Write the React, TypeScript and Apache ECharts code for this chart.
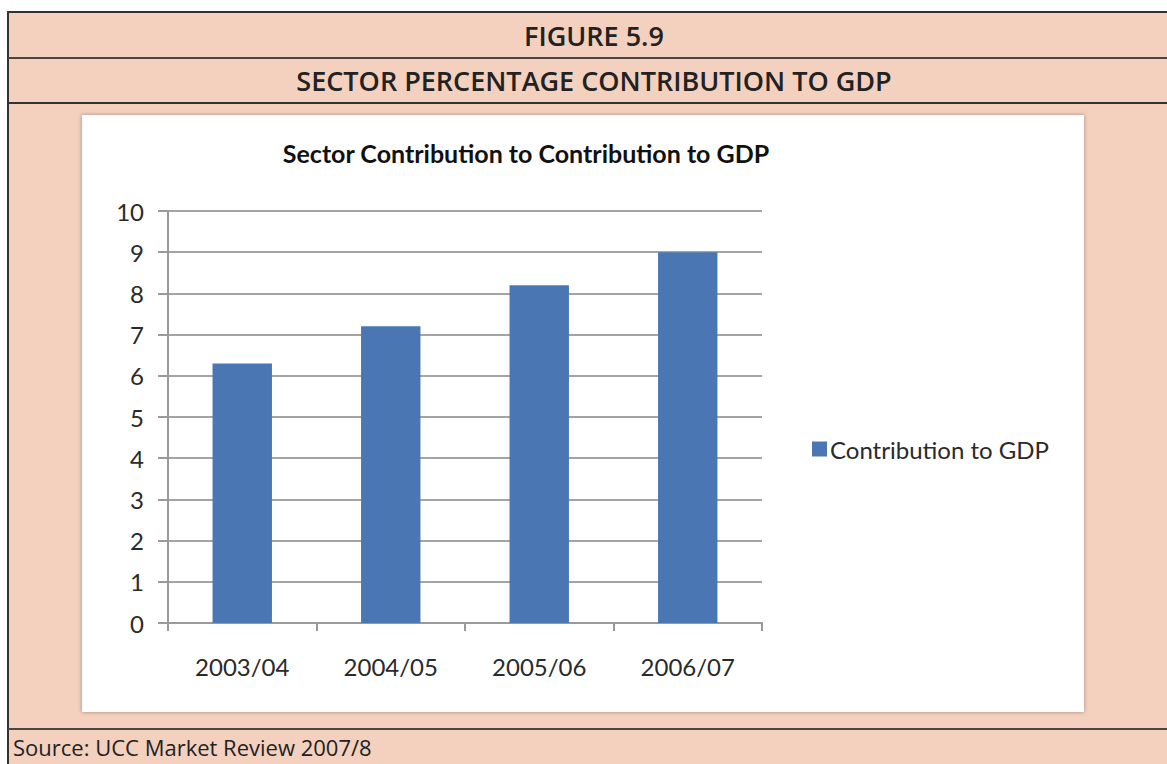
import React, { useEffect, useRef } from "react";
import * as echarts from "echarts";

const categories = ["2003/04", "2004/05", "2005/06", "2006/07"];
const contribution = [6.3, 7.2, 8.2, 9.0];
const seriesName = "Contribution to GDP";
const chartTitle = "Sector Contribution to Contribution to GDP";
const figureLabel = "FIGURE 5.9";
const figureTitle = "SECTOR PERCENTAGE CONTRIBUTION TO GDP";
const sourceText = "Source: UCC Market Review 2007/8";

const PEACH = "#f4d0be";
const LINE = "#4e4440";

export default function App() {
  const ref = useRef<HTMLDivElement>(null);
  useEffect(() => {
    if (!ref.current) return;
    const chart = echarts.init(ref.current, undefined, { renderer: "svg" });
    chart.setOption({
      animation: false,
      backgroundColor: "transparent",
      textStyle: { fontFamily: "Lato" },
      grid: { left: 168, right: 405, top: 211, bottom: 141 },
      xAxis: {
        type: "category",
        data: categories,
        axisLine: { lineStyle: { color: "#9a9a9a", width: 2 } },
        axisTick: { show: true, length: 8, lineStyle: { color: "#9a9a9a", width: 2 } },
        axisLabel: { color: "#2a2a2a", fontSize: 24, fontFamily: "Lato", margin: 31 },
      },
      yAxis: {
        type: "value",
        min: 0,
        max: 10,
        interval: 1,
        axisLine: { show: true, lineStyle: { color: "#9a9a9a", width: 2 } },
        axisTick: { show: true, length: 10, lineStyle: { color: "#9a9a9a", width: 2 } },
        axisLabel: { color: "#2a2a2a", fontSize: 24, fontFamily: "Lato", margin: 24 },
        splitLine: { lineStyle: { color: "#a4a4a4", width: 2 } },
      },
      legend: {
        orient: "vertical",
        left: 807,
        top: 432,
        itemWidth: 15,
        itemHeight: 15,
        itemGap: 8,
        icon: "rect",
        textStyle: { color: "#2a2a2a", fontSize: 24, fontFamily: "Lato", padding: [0, 0, 0, -2] },
        data: [seriesName],
      },
      series: [
        {
          name: seriesName,
          type: "bar",
          data: contribution,
          barCategoryGap: "60%",
          itemStyle: { color: "#4a77b3" },
        },
      ],
      graphic: [
        {
          type: "text",
          x: 594,
          y: 35,
          style: {
            text: figureLabel,
            fontSize: 27,
            fontWeight: 600,
            fontFamily: "Open Sans",
            fill: "#222",
            textAlign: "center",
            textVerticalAlign: "middle",
          },
        },
        {
          type: "text",
          x: 594,
          y: 80,
          style: {
            text: figureTitle,
            fontSize: 27,
            fontWeight: 600,
            fontFamily: "Open Sans",
            fill: "#222",
            textAlign: "center",
            textVerticalAlign: "middle",
          },
        },
        {
          type: "text",
          x: 526,
          y: 153,
          style: {
            text: chartTitle,
            fontSize: 25,
            fontWeight: "bold",
            fontFamily: "Lato",
            fill: "#111",
            textAlign: "center",
            textVerticalAlign: "middle",
          },
        },
        {
          type: "text",
          x: 13,
          y: 747,
          style: {
            text: sourceText,
            fontSize: 22,
            fontFamily: "Open Sans",
            fill: "#222",
            textAlign: "left",
            textVerticalAlign: "middle",
          },
        },
      ],
    });
    return () => chart.dispose();
  }, []);

  const abs = (s: React.CSSProperties): React.CSSProperties => ({ position: "absolute", ...s });

  return (
    <div style={abs({ left: 0, top: 0, width: 1167, height: 764, overflow: "hidden", background: "#fff" })}>
      <div style={abs({ left: 8, top: 12, width: 1170, height: 760, background: PEACH })} />
      <div style={abs({ left: 8, top: 11, width: 1170, height: 2, background: "#333" })} />
      <div style={abs({ left: 7, top: 11, width: 2, height: 760, background: "#333" })} />
      <div style={abs({ left: 8, top: 57, width: 1170, height: 2, background: LINE })} />
      <div style={abs({ left: 8, top: 102, width: 1170, height: 2, background: "#333" })} />
      <div style={abs({ left: 8, top: 728, width: 1170, height: 2, background: LINE })} />
      <div
        style={abs({
          left: 82,
          top: 115,
          width: 1002,
          height: 597,
          background: "#fff",
          boxShadow: "0 0 4px rgba(0,0,0,0.35)",
        })}
      />
      <div ref={ref} style={abs({ left: 0, top: 0, width: 1167, height: 764 })} />
    </div>
  );
}
